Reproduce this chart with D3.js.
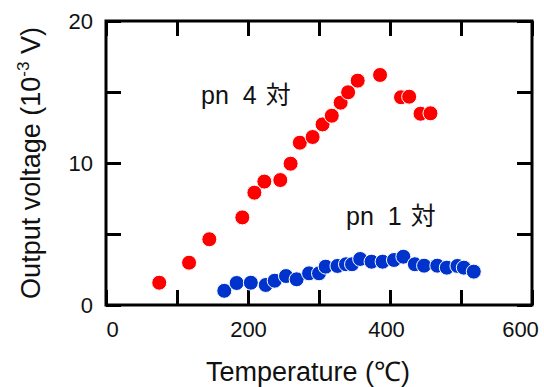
<!DOCTYPE html>
<html>
<head>
<meta charset="utf-8">
<script src="https://cdn.jsdelivr.net/npm/d3@7"></script>
<style>
  body { margin: 0; background: #fff; }
  svg { display: block; font-family: "Liberation Sans", Arial, sans-serif; }
  .ja { font-family: "Liberation Sans", "Noto Sans CJK JP", sans-serif; }
</style>
</head>
<body>
<svg id="chart" width="544" height="387"></svg>
<script>
// pn 4 pairs (red)
const tempPn4 = [75, 117, 145.5, 192, 209, 223, 245.5, 260, 273, 291, 305, 318, 330.5, 341, 354.5, 386, 415.5, 427, 443, 457];
const voltPn4 = [1.57, 2.98, 4.63, 6.17, 7.91, 8.69, 8.8, 9.95, 11.43, 11.83, 12.72, 13.33, 14.25, 14.98, 15.8, 16.2, 14.63, 14.67, 13.47, 13.5];

// pn 1 pair (blue)
const tempPn1 = [166.6, 184, 204, 225, 237.6, 253.5, 268.5, 286, 300, 309.4, 326, 338, 346.5, 358, 374, 389.6, 405.6, 418.8, 435, 448, 466.6, 480, 495, 504, 518];
const voltPn1 = [1.0, 1.55, 1.57, 1.41, 1.71, 2.04, 1.81, 2.23, 2.23, 2.7, 2.75, 2.87, 2.87, 3.24, 3.05, 3.05, 3.17, 3.4, 2.87, 2.77, 2.77, 2.63, 2.75, 2.63, 2.35];

const xTicks = [0, 100, 200, 300, 400, 500, 600];
const xLabels = [0, 200, 400, 600];
const yTicks = [0, 5, 10, 15, 20];
const yLabels = [0, 10, 20];

const svg = d3.select("#chart");
const margin = { left: 106, right: 12, top: 21, bottom: 82 };
const W = 544, H = 387;

const x = d3.scaleLinear().domain([0, 600]).range([margin.left, W - margin.right]);
const y = d3.scaleLinear().domain([0, 20]).range([H - margin.bottom, margin.top]);

const tickLen = 15;

// bottom axis
const gx = svg.append("g")
    .attr("transform", `translate(0,${y(0)})`)
    .call(d3.axisBottom(x).tickValues(xTicks).tickSizeInner(-tickLen).tickSizeOuter(0).tickPadding(13)
        .tickFormat(d => xLabels.includes(d) ? d : ""));
// top axis
const gxt = svg.append("g")
    .attr("transform", `translate(0,${y(20)})`)
    .call(d3.axisTop(x).tickValues(xTicks).tickSizeInner(-tickLen).tickSizeOuter(0).tickFormat(""));
// left axis
const gy = svg.append("g")
    .attr("transform", `translate(${x(0)},0)`)
    .call(d3.axisLeft(y).tickValues(yTicks).tickSizeInner(-tickLen).tickSizeOuter(0).tickPadding(13)
        .tickFormat(d => yLabels.includes(d) ? d : ""));
// right axis
const gyr = svg.append("g")
    .attr("transform", `translate(${x(600)},0)`)
    .call(d3.axisRight(y).tickValues(yTicks).tickSizeInner(-tickLen).tickSizeOuter(0).tickFormat(""));

[gx, gxt, gy, gyr].forEach(g => {
    g.select(".domain").remove();
    g.selectAll("line").attr("stroke", "#000").attr("stroke-width", 3);
    g.selectAll("text").attr("font-size", 22).attr("fill", "#111")
        .attr("font-family", "'Liberation Sans', Arial, sans-serif");
});
gx.selectAll("text").attr("dy", "0.85em");
gx.selectAll("text").filter(d => d === 0).attr("dx", 6);
gx.selectAll("text").filter(d => d === 600).attr("dx", -12);
gx.selectAll("text").filter(d => d === 400).attr("dx", -4);

// frame
svg.append("rect")
    .attr("x", x(0)).attr("y", y(20))
    .attr("width", x(600) - x(0)).attr("height", y(0) - y(20))
    .attr("fill", "none").attr("stroke", "#000").attr("stroke-width", 3);

// points
const pn4 = tempPn4.map((t, i) => ({ t, v: voltPn4[i] }));
const pn1 = tempPn1.map((t, i) => ({ t, v: voltPn1[i] }));

svg.append("g").selectAll("circle").data(pn4).join("circle")
    .attr("cx", d => x(d.t)).attr("cy", d => y(d.v)).attr("r", 7.5)
    .attr("fill", "#ff0000").attr("stroke", "#fff").attr("stroke-width", 1);

svg.append("g").selectAll("circle").data(pn1).join("circle")
    .attr("cx", d => x(d.t)).attr("cy", d => y(d.v)).attr("r", 7.5)
    .attr("fill", "#0033cc").attr("stroke", "#fff").attr("stroke-width", 1);

// series labels
function seriesLabel(x0, y0, num) {
    const t = svg.append("text").attr("class", "ja")
        .attr("x", x0).attr("y", y0).attr("font-size", 25).attr("fill", "#111");
    t.append("tspan").text("pn");
    t.append("tspan").attr("dx", 14).text(num);
    t.append("tspan").attr("dx", 9).text("対");
}
seriesLabel(201, 104, "4");
seriesLabel(346, 225, "1");

// axis titles
svg.append("text")
    .attr("x", 308).attr("y", 381)
    .attr("text-anchor", "middle").attr("font-size", 27).attr("fill", "#111")
    .text("Temperature (℃)");

const yt = svg.append("text")
    .attr("transform", `translate(40,${(y(0) + y(20)) / 2}) rotate(-90)`)
    .attr("text-anchor", "middle").attr("font-size", 27).attr("fill", "#111");
yt.append("tspan").text("Output voltage (10");
yt.append("tspan").attr("font-size", 17).attr("dy", -11).text("-3");
yt.append("tspan").attr("dy", 11).text(" V)");
</script>
</body>
</html>
